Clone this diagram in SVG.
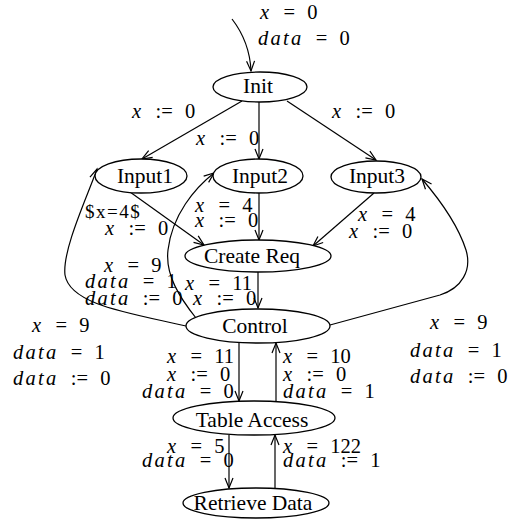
<svg xmlns="http://www.w3.org/2000/svg" width="518" height="519" viewBox="0 0 518 519">
<style>
.bg{fill:#fff}
.node ellipse{fill:#fff;stroke:#000;stroke-width:1.3}
.node text{font-family:"Liberation Serif","Times New Roman",serif;font-size:21.5px;text-anchor:middle;fill:#000}
.e{fill:none;stroke:#000;stroke-width:1.2}
.m{font-family:"Liberation Serif","Times New Roman",serif;font-size:20.5px;word-spacing:7px;fill:#000}
.v{font-style:italic;letter-spacing:2.3px}
.r{font-family:"Liberation Serif","Times New Roman",serif;font-size:19px;letter-spacing:1.5px;fill:#000}
</style>
<defs>
<marker id="ah" markerUnits="userSpaceOnUse" markerWidth="14" markerHeight="12" viewBox="-12 -6 14 12" refX="0" refY="0" orient="auto">
<path d="M-10,-4 L0,0 L-10,4" fill="none" stroke="#000" stroke-width="1.2"/>
</marker>
</defs>
<rect class="bg" x="0" y="0" width="518" height="519"/>
<g id="connectors">
<path class="e" d="M232,19 C242,32 250,48 251,71" marker-end="url(#ah)"/>
<path class="e" d="M242,101 L142,159" marker-end="url(#ah)"/>
<path class="e" d="M259,102 L259,159" marker-end="url(#ah)"/>
<path class="e" d="M287,101 L376,160" marker-end="url(#ah)"/>
<path class="e" d="M130,192 L204,245" marker-end="url(#ah)"/>
<path class="e" d="M259,193 L259,240" marker-end="url(#ah)"/>
<path class="e" d="M374,193 L313,246" marker-end="url(#ah)"/>
<path class="e" d="M258,272 L258,308" marker-end="url(#ah)"/>
<path class="e" d="M186,326 C130,313 70,305 65,275 C62,250 88,195 97,169" marker-end="url(#ah)"/>
<path class="e" d="M196,318 C180,298 165,275 168,250 C172,215 195,188 214,173" marker-end="url(#ah)"/>
<path class="e" d="M330,325 L440,295 C462,288 472,270 466,250 C458,225 440,200 422,179" marker-end="url(#ah)"/>
<path class="e" d="M239,343 L239,401" marker-end="url(#ah)"/>
<path class="e" d="M276,401 L276,343" marker-end="url(#ah)"/>
<path class="e" d="M229,435 L229,488" marker-end="url(#ah)"/>
<path class="e" d="M275,488 L275,435" marker-end="url(#ah)"/>
</g>
<g id="edge-labels">
<text class="m" x="260" y="19"><tspan class="v">x</tspan> = 0</text>
<text class="m" x="258" y="45"><tspan class="v">data</tspan> = 0</text>
<text class="m" x="132" y="118"><tspan class="v">x</tspan> := 0</text>
<text class="m" x="332" y="118"><tspan class="v">x</tspan> := 0</text>
<text class="m" x="196" y="145"><tspan class="v">x</tspan> := 0</text>
<text class="r" x="85" y="218">$x=4$</text>
<text class="m" x="105" y="235"><tspan class="v">x</tspan> := 0</text>
<text class="m" x="195" y="212"><tspan class="v">x</tspan> = 4</text>
<text class="m" x="195" y="227"><tspan class="v">x</tspan> := 0</text>
<text class="m" x="358" y="221"><tspan class="v">x</tspan> = 4</text>
<text class="m" x="349" y="238"><tspan class="v">x</tspan> := 0</text>
<text class="m" x="104" y="272"><tspan class="v">x</tspan> = 9</text>
<text class="m" x="85" y="288"><tspan class="v">data</tspan> = 1</text>
<text class="m" x="85" y="305"><tspan class="v">data</tspan> := 0</text>
<text class="m" x="185" y="290"><tspan class="v">x</tspan> = 11</text>
<text class="m" x="193" y="305"><tspan class="v">x</tspan> := 0</text>
<text class="m" x="32" y="332"><tspan class="v">x</tspan> = 9</text>
<text class="m" x="13" y="359"><tspan class="v">data</tspan> = 1</text>
<text class="m" x="13" y="385"><tspan class="v">data</tspan> := 0</text>
<text class="m" x="430" y="329"><tspan class="v">x</tspan> = 9</text>
<text class="m" x="410" y="357"><tspan class="v">data</tspan> = 1</text>
<text class="m" x="410" y="383"><tspan class="v">data</tspan> := 0</text>
<text class="m" x="167" y="363"><tspan class="v">x</tspan> = 11</text>
<text class="m" x="167" y="381"><tspan class="v">x</tspan> := 0</text>
<text class="m" x="142" y="398"><tspan class="v">data</tspan> = 0</text>
<text class="m" x="283" y="363"><tspan class="v">x</tspan> = 10</text>
<text class="m" x="283" y="381"><tspan class="v">x</tspan> := 0</text>
<text class="m" x="283" y="398"><tspan class="v">data</tspan> = 1</text>
<text class="m" x="167" y="453"><tspan class="v">x</tspan> = 5</text>
<text class="m" x="142" y="467"><tspan class="v">data</tspan> = 0</text>
<text class="m" x="283" y="453"><tspan class="v">x</tspan> = 122</text>
<text class="m" x="283" y="467"><tspan class="v">data</tspan> := 1</text>
</g>
<g id="init" class="node"><ellipse cx="260" cy="87" rx="47" ry="15"/><text x="258" y="93">Init</text></g>
<g id="input1" class="node"><ellipse cx="141" cy="176" rx="46" ry="17"/><text x="145" y="183">Input1</text></g>
<g id="input2" class="node"><ellipse cx="258" cy="176" rx="45" ry="17"/><text x="260" y="183">Input2</text></g>
<g id="input3" class="node"><ellipse cx="376" cy="177" rx="45" ry="16"/><text x="377" y="183">Input3</text></g>
<g id="create-req" class="node"><ellipse cx="258" cy="256" rx="73" ry="16"/><text x="252" y="263">Create Req</text></g>
<g id="control" class="node"><ellipse cx="258" cy="326" rx="72" ry="17"/><text x="255" y="333">Control</text></g>
<g id="table-access" class="node"><ellipse cx="254" cy="418" rx="81" ry="17"/><text x="252" y="427">Table Access</text></g>
<g id="retrieve-data" class="node"><ellipse cx="256" cy="503" rx="73" ry="15"/><text x="253" y="510">Retrieve Data</text></g>
</svg>
